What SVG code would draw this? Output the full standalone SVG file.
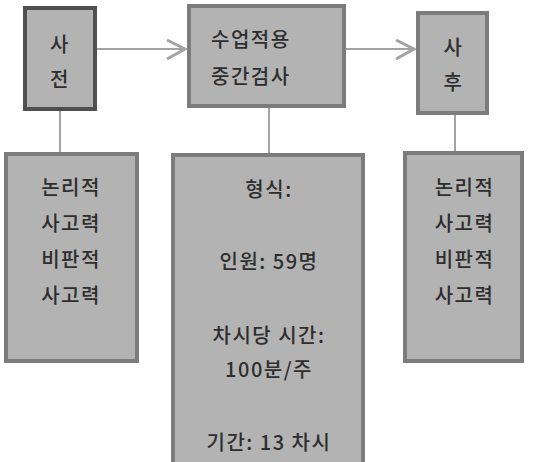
<svg xmlns="http://www.w3.org/2000/svg" width="533" height="462" viewBox="0 0 533 462">
<style>
.box{fill:#b3b3b3;stroke:#7c7c7c;stroke-width:4}
.dark{stroke:#4f4f4f}
.t{font-family:"Noto Sans CJK KR","Noto Sans",sans-serif;font-size:20px;font-weight:500;letter-spacing:1.5px;fill:#2e2e2e;text-anchor:middle}
.l{text-anchor:start}
.c{fill:none;stroke:#a3a3a3;stroke-width:2}
.h{fill:none;stroke:#a3a3a3;stroke-width:3}
</style>
<rect width="533" height="462" fill="#ffffff"/>
<g id="connectors">
<line class="c" x1="97" y1="49" x2="185" y2="49"/>
<polyline class="h" points="167,40 185,49 167,59"/>
<line class="c" x1="346" y1="49" x2="414" y2="49"/>
<polyline class="h" points="396,40 414,49 396,59"/>
<line class="c" x1="60" y1="111" x2="60" y2="152"/>
<line class="c" x1="269" y1="108" x2="269" y2="153"/>
<line class="c" x1="455" y1="115" x2="455" y2="152"/>
</g>
<g id="pre">
<rect class="box dark" x="25" y="8" width="70" height="101"/>
<text class="t" x="60" y="52">사</text>
<text class="t" x="60" y="87">전</text>
</g>
<g id="mid">
<rect class="box" x="189" y="6" width="155" height="100"/>
<text class="t l" x="211" y="47">수업적용</text>
<text class="t l" x="211" y="84">중간검사</text>
</g>
<g id="post">
<rect class="box" x="418" y="13" width="69" height="100"/>
<text class="t" x="453.5" y="55">사</text>
<text class="t" x="453.5" y="90">후</text>
</g>
<g id="pre-detail">
<rect class="box" x="6" y="154" width="131" height="207"/>
<text class="t" x="71" y="195">논리적</text>
<text class="t" x="71" y="231">사고력</text>
<text class="t" x="71" y="267">비판적</text>
<text class="t" x="71" y="303">사고력</text>
</g>
<g id="mid-detail">
<rect class="box" x="173" y="155" width="190" height="320"/>
<text class="t" x="269" y="197">형식:</text>
<text class="t" x="269" y="269">인원: 59명</text>
<text class="t" x="269" y="343">차시당 시간:</text>
<text class="t" x="269" y="377">100분/주</text>
<text class="t" x="269" y="450">기간: 13 차시</text>
</g>
<g id="post-detail">
<rect class="box" x="405" y="153" width="117" height="208"/>
<text class="t" x="464.5" y="195">논리적</text>
<text class="t" x="464.5" y="231">사고력</text>
<text class="t" x="464.5" y="267">비판적</text>
<text class="t" x="464.5" y="303">사고력</text>
</g>
</svg>
